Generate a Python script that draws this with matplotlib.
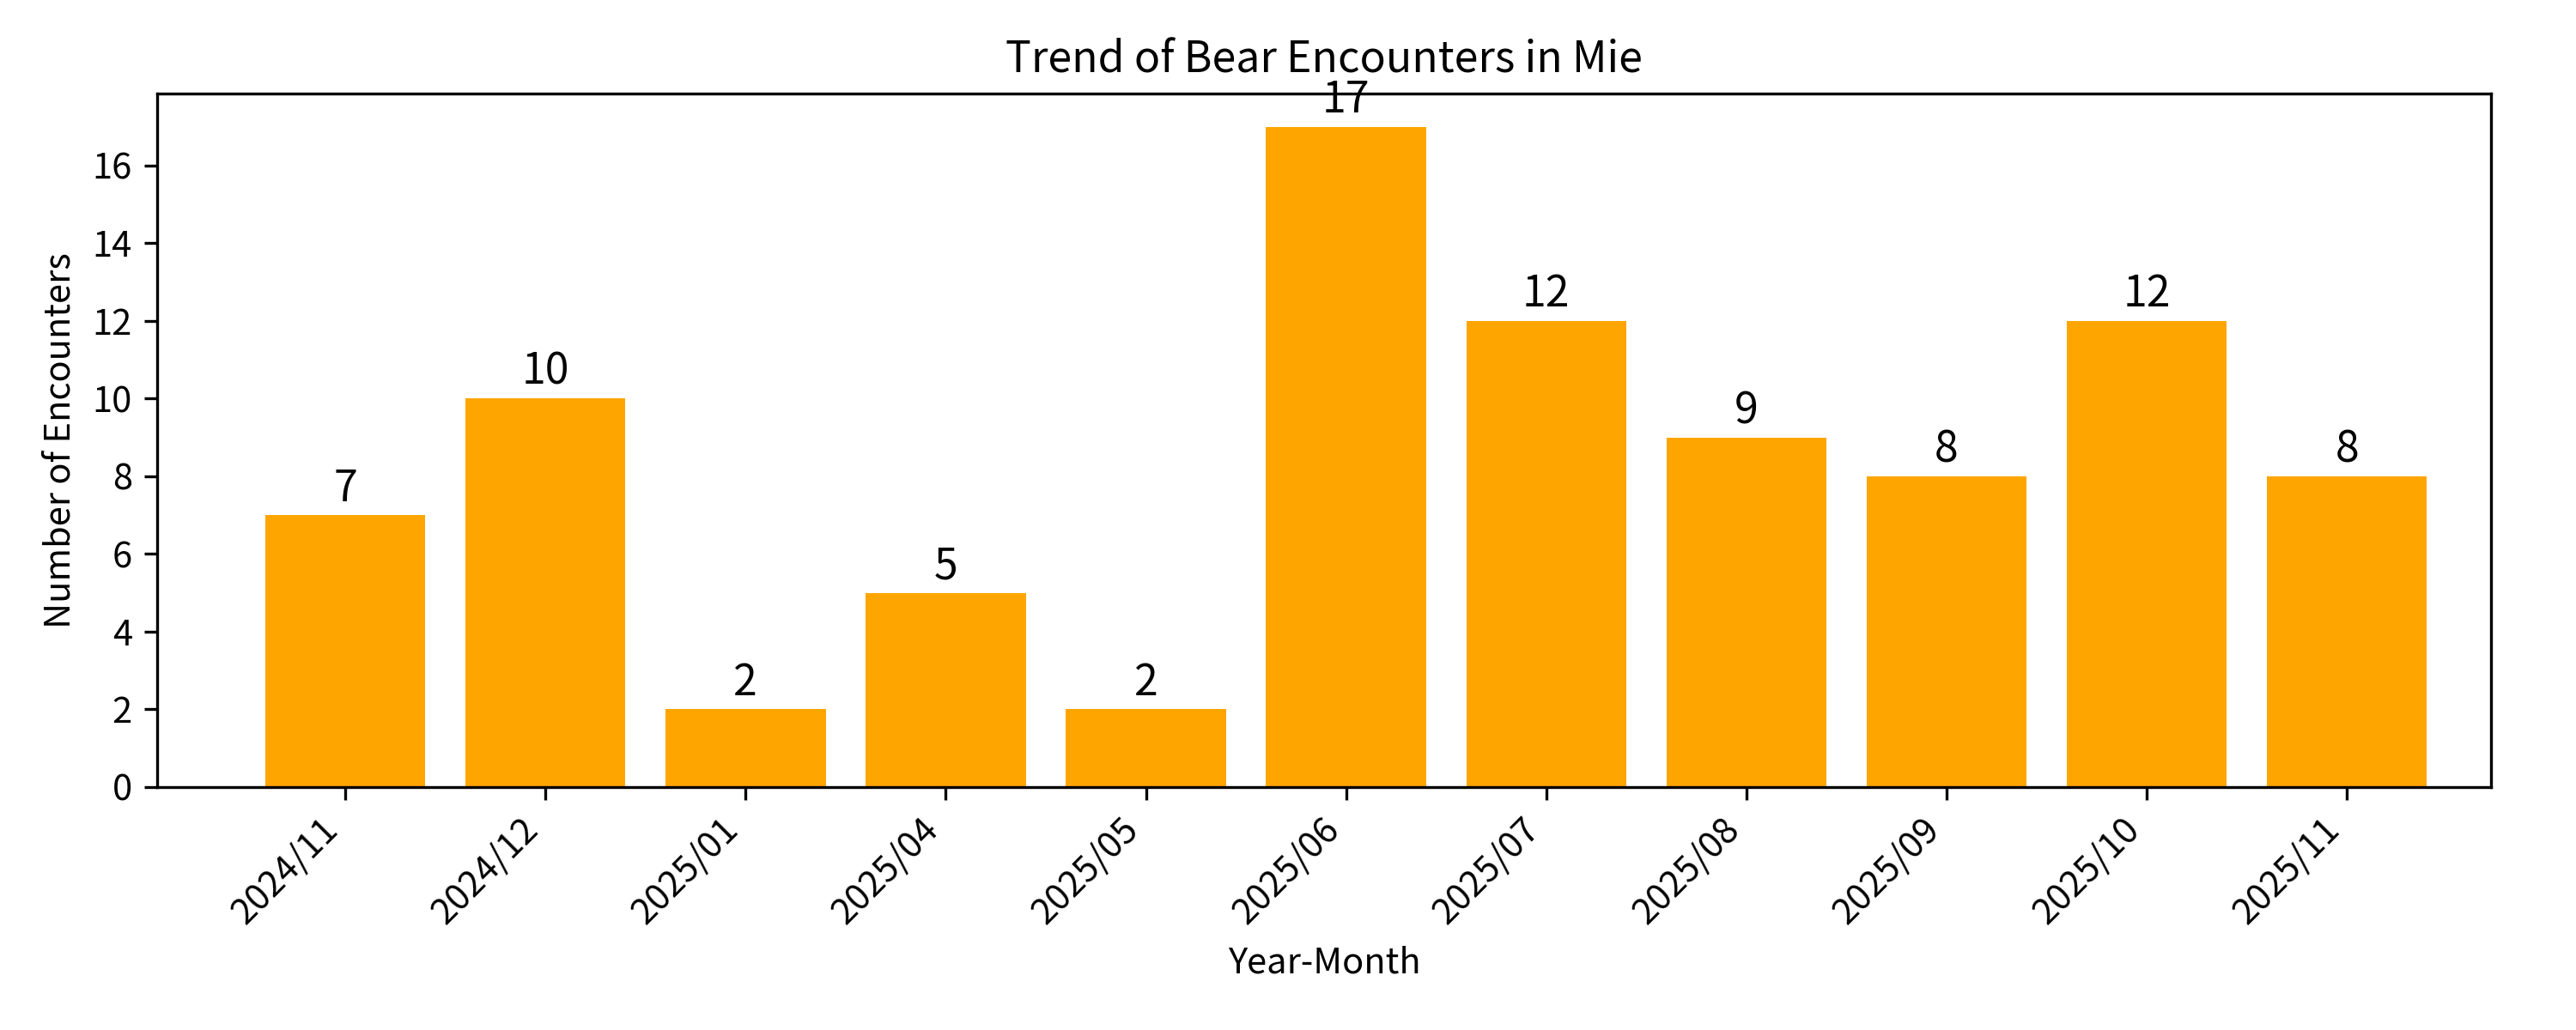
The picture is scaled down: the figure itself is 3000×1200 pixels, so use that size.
import matplotlib
matplotlib.use("Agg")
import matplotlib.pyplot as plt

plt.rcParams['font.family'] = ['Noto Sans CJK JP', 'DejaVu Sans']

# Monthly bear encounter counts in Mie
months = ['2024/11', '2024/12', '2025/01', '2025/04', '2025/05', '2025/06',
          '2025/07', '2025/08', '2025/09', '2025/10', '2025/11']
counts = [7, 10, 2, 5, 2, 17, 12, 9, 8, 12, 8]

fig, ax = plt.subplots(figsize=(10, 4), dpi=300)
bars = ax.bar(months, counts, color='orange')

for b, v in zip(bars, counts):
    ax.text(b.get_x() + b.get_width() / 2, v + 0.1, str(v),
            ha='center', va='bottom', fontsize=12)

ax.set_title("Trend of Bear Encounters in Mie")
ax.set_xlabel("Year-Month")
ax.set_ylabel("Number of Encounters")
ax.set_yticks(range(0, 17, 2))
ax.set_xlim(-0.94, 10.72)
plt.setp(ax.get_xticklabels(), rotation=45, ha='right')

plt.subplots_adjust(left=0.061, right=0.967, top=0.909, bottom=0.236)
plt.savefig("out.png")
